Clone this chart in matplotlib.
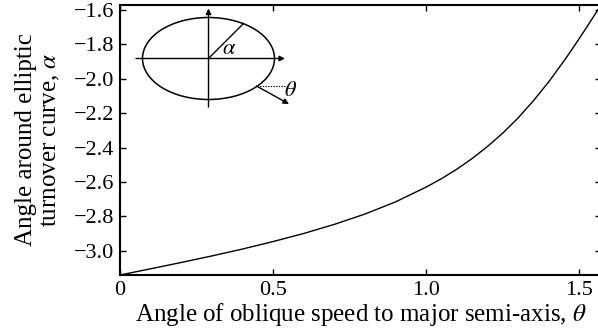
import numpy as np
import matplotlib
matplotlib.use("Agg")
import matplotlib.pyplot as plt
from matplotlib.patches import Ellipse, FancyArrowPatch

plt.rcParams['font.family'] = ['Liberation Serif', 'DejaVu Serif']
plt.rcParams['mathtext.fontset'] = 'stix'
plt.rcParams['axes.unicode_minus'] = True

# data
theta = [0.0, 0.1, 0.2, 0.3, 0.4, 0.5, 0.6, 0.7, 0.8, 0.9, 1.0, 1.05, 1.1, 1.15,
         1.2, 1.25, 1.3, 1.35, 1.4, 1.45, 1.475, 1.5, 1.515, 1.53, 1.545, 1.56, 1.5708]
alpha = [-3.1416, -3.1055, -3.0687, -3.0307, -2.9906, -2.947, -2.900, -2.847, -2.787,
         -2.716, -2.630, -2.581, -2.526, -2.464, -2.394, -2.316, -2.228, -2.128,
         -2.018, -1.896, -1.832, -1.765, -1.725, -1.684, -1.642, -1.601, -1.571]
xticks = [0, 0.5, 1.0, 1.5]
xticklabels = ["0", "0.5", "1.0", "1.5"]
yticks = [-3.0, -2.8, -2.6, -2.4, -2.2, -2.0, -1.8, -1.6]

W, H = 598, 335
fig = plt.figure(figsize=(W / 100, H / 100), dpi=100)
left, right, top, bottom = 120, 601, 5, 275
ax = fig.add_axes([left / W, (H - bottom) / H, (right - left) / W, (bottom - top) / H])
ax.plot(theta, alpha, color='black', lw=1.0)
ax.set_xlim(0, np.pi / 2)
ax.set_ylim(-np.pi, -np.pi / 2)
ax.set_xticks(xticks)
ax.set_xticklabels(xticklabels)
ax.set_yticks(yticks)
ax.set_yticklabels([f"\u2212{abs(v):.1f}" for v in yticks])
ax.tick_params(direction='in', top=True, right=True, length=4, width=1,
               labelsize=16, pad=4)
for s in ax.spines.values():
    s.set_linewidth(1.5)
ax.set_xlabel(r"Angle of oblique speed to major semi-axis, $\theta$", fontsize=18, labelpad=1)
ax.set_ylabel("Angle around elliptic\n" + r"turnover curve, $\alpha$", fontsize=18,
              labelpad=9, linespacing=1.12)

# inset sketch (pixel coordinates of the figure)
ov = fig.add_axes([0, 0, 1, 1], facecolor='none')
ov.set_xlim(0, W)
ov.set_ylim(H, 0)
ov.axis('off')
cx, cy, sa, sb = 208.5, 58.5, 66, 41
ov.add_patch(Ellipse((cx, cy), 2 * sa, 2 * sb, fill=False, ec='black', lw=1.1))
ov.add_patch(FancyArrowPatch((136, cy), (285, cy), arrowstyle='-|>', mutation_scale=8,
                             lw=1.0, color='black', shrinkA=0, shrinkB=0))
ov.add_patch(FancyArrowPatch((cx, 107), (cx, 8.5), arrowstyle='-|>', mutation_scale=8,
                             lw=1.0, color='black', shrinkA=0, shrinkB=0))
ov.plot([cx, 243.5], [cy, 23.5], color='black', lw=1.0)
ov.text(229, 50, r"$\alpha$", fontsize=16, ha='center', va='center')
px, py = 256.5, 86
ov.plot([px, 285], [py, py], color='black', lw=0.8, ls=(0, (1.2, 1.2)))
ov.add_patch(FancyArrowPatch((px, py), (289, 104), arrowstyle='-|>', mutation_scale=8,
                             lw=1.0, color='black', shrinkA=0, shrinkB=0))
ov.text(290, 92, r"$\theta$", fontsize=16, ha='center', va='center')

fig.savefig("out.png", dpi=100)
